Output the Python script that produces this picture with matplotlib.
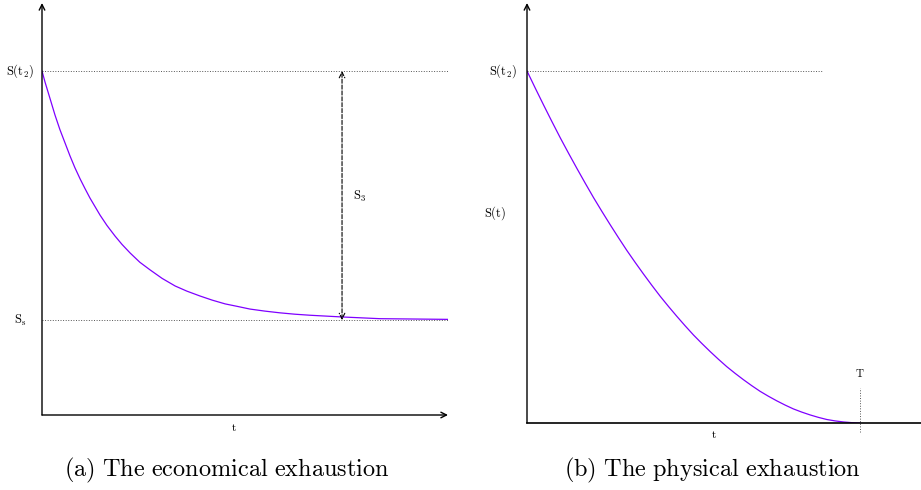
import matplotlib
matplotlib.use('Agg')
import matplotlib.pyplot as plt

plt.rcParams['mathtext.fontset'] = 'cm'
plt.rcParams['font.family'] = 'serif'

# (a) economical exhaustion: stock S over time t, decaying towards S_s
t_a = [0, 0.074, 0.2, 0.32, 0.44, 0.57, 0.69, 0.81, 0.94, 1.06, 1.18, 1.31,
       1.43, 1.60, 1.8, 1.97, 2.17, 2.41, 2.66, 2.96, 3.28, 3.57, 3.89, 4.19,
       4.51, 4.80, 5.12, 5.49, 5.86, 6.23, 6.6, 7.39, 8.32, 10]
s_a = [100, 96.8, 91.9, 87.2, 83.0, 79.0, 75.3, 71.9, 68.6, 65.8, 63.1, 60.5,
       58.1, 55.1, 52.0, 49.6, 47.1, 44.4, 42.2, 39.7, 37.5, 36.0, 34.6, 33.4,
       32.3, 31.6, 30.8, 30.2, 29.7, 29.3, 29.0, 28.5, 28.0, 27.8]
s_t2 = 100
s_s = 27.6
t_s3 = 7.39

# (b) physical exhaustion: stock reaches zero at T
t_b = [0, 0.25, 0.5, 0.75, 1, 1.25, 1.5, 1.75, 2, 2.25, 2.5, 2.75, 3, 3.25,
       3.5, 3.75, 4, 4.25, 4.5, 4.75, 5, 5.25, 5.5, 5.75, 6, 6.25, 6.5, 6.75,
       7, 7.25, 7.5, 7.75, 8, 8.25, 8.5, 8.75, 9, 9.25, 9.5, 9.75, 10]
s_b = [100, 95.1, 90.3, 85.6, 81, 76.6, 72.3, 68.1, 64, 60.1, 56.3, 52.6,
       49, 45.6, 42.3, 39.1, 36, 33.1, 30.3, 27.6, 25, 22.6, 20.3, 18.1, 16,
       14.1, 12.3, 10.6, 9, 7.6, 6.3, 5.1, 4, 3.1, 2.3, 1.6, 1, 0.6, 0.3, 0.1, 0]
t_T = 10

W, H = 921, 490
fig = plt.figure(figsize=(W / 100, H / 100), dpi=100)

curve_color = '#7f00ff'
dot_kw = dict(color='#555555', linestyle=':', linewidth=0.7)


def axes_px(x0, y_bottom, x1, y_top):
    return fig.add_axes([x0 / W, (H - y_bottom) / H, (x1 - x0) / W, (y_bottom - y_top) / H])


# ---- panel (a)
ax = axes_px(42, 415, 448, 3)
ax.set_xlim(0, 10)
ax.set_ylim(0, 412 / 3.44)
ax.axis('off')
ax.plot(t_a, s_a, color=curve_color, lw=0.9)
ax.plot([0, 10], [s_t2, s_t2], **dot_kw)
ax.plot([0, 10], [s_s, s_s], **dot_kw)
ax.annotate('', xy=(0, 412 / 3.44), xytext=(0, 0),
            arrowprops=dict(arrowstyle='->', lw=1, color='black', shrinkA=0, shrinkB=0),
            annotation_clip=False)
ax.annotate('', xy=(10, 0), xytext=(0, 0),
            arrowprops=dict(arrowstyle='->', lw=1, color='black', shrinkA=0, shrinkB=0),
            annotation_clip=False)
ax.annotate('', xy=(t_s3, s_t2), xytext=(t_s3, s_s),
            arrowprops=dict(arrowstyle='<->', lw=0.8, color='black', linestyle='--',
                            shrinkA=0, shrinkB=0),
            annotation_clip=False)
ax.text(-0.53, s_t2, r'$\mathrm{S(t_2)}$', ha='center', va='center', fontsize=9)
ax.text(-0.53, s_s, r'$\mathrm{S_s}$', ha='center', va='center', fontsize=9)
ax.text(t_s3 + 0.26, 63.4, r'$\mathrm{S_3}$', ha='left', va='center', fontsize=9)
ax.text(4.73, -3.5, r'$\mathrm{t}$', ha='center', va='center', fontsize=8)

# ---- panel (b)
bx = axes_px(527, 423, 921, 3)
bx.set_xlim(0, 394 / 33.3)
bx.set_ylim(0, 420 / 3.52)
bx.axis('off')
bx.plot(t_b, s_b, color=curve_color, lw=0.9)
bx.plot([0, 8.86], [s_t2, s_t2], **dot_kw)
bx.plot([t_T, t_T], [-2.6, 9.9], clip_on=False, **dot_kw)
bx.annotate('', xy=(0, 420 / 3.52), xytext=(0, 0),
            arrowprops=dict(arrowstyle='->', lw=1, color='black', shrinkA=0, shrinkB=0),
            annotation_clip=False)
bx.plot([0, 394 / 33.3], [0, 0], color='black', lw=1.2, clip_on=False)
bx.text(-0.72, s_t2, r'$\mathrm{S(t_2)}$', ha='center', va='center', fontsize=9)
bx.text(-0.96, 59.7, r'$\mathrm{S(t)}$', ha='center', va='center', fontsize=9)
bx.text(t_T, 14.2, r'$\mathrm{T}$', ha='center', va='center', fontsize=8)
bx.text(5.6, -3.4, r'$\mathrm{t}$', ha='center', va='center', fontsize=8)

# captions
fig.text(227 / W, 1 - 470 / H, r'$\mathrm{(a)\ The\ economical\ exhaustion}$',
         ha='center', va='center', fontsize=17.5)
fig.text(712 / W, 1 - 470 / H, r'$\mathrm{(b)\ The\ physical\ exhaustion}$',
         ha='center', va='center', fontsize=17.5)

fig.savefig('out.png', dpi=100)
